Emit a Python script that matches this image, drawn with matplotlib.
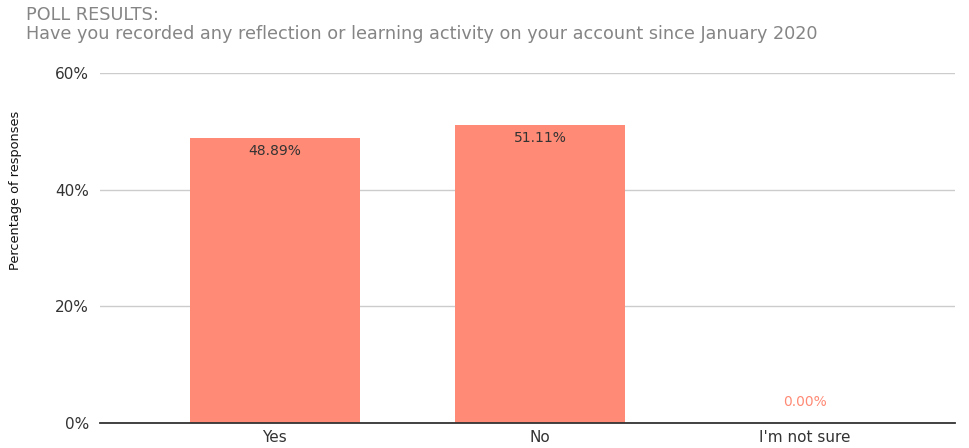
import matplotlib
matplotlib.use("Agg")
import matplotlib.pyplot as plt
from matplotlib.ticker import FuncFormatter

# poll answers and share of responses (percent)
answers = ["Yes", "No", "I'm not sure"]
shares = [48.89, 51.11, 0.00]
value_labels = ["48.89%", "51.11%", "0.00%"]
yticks = [0, 20, 40, 60]

bar_color = "#FF8A75"
text_color = "#333333"

fig = plt.figure(figsize=(9.69, 4.48), dpi=100)
ax = fig.add_axes([0.1032, 0.0558, 0.8824, 0.7812])

xpos = list(range(len(answers)))
ax.bar(xpos, shares, width=0.64, color=bar_color, zorder=3)

# value labels sit just inside the top of each bar, zero bars get a label above the axis
for x, v, lab in zip(xpos, shares, value_labels):
    if v > 0:
        ax.text(x, v - 1.0, lab, ha="center", va="top", fontsize=10,
                color=text_color, family="DejaVu Sans", zorder=4)
    else:
        ax.text(x, v + 2.4, lab, ha="center", va="bottom", fontsize=10,
                color=bar_color, family="DejaVu Sans", zorder=4)

ax.set_xlim(-0.66, 2.566)
ax.set_ylim(0, 60)
ax.set_xticks(xpos)
ax.set_xticklabels(answers, family="DejaVu Sans", fontsize=11, color=text_color)
ax.set_yticks(yticks)
ax.yaxis.set_major_formatter(FuncFormatter(lambda v, _: f"{v:.0f}%"))
for t in ax.get_yticklabels():
    t.set_family("DejaVu Sans")
    t.set_fontsize(11)
    t.set_color(text_color)

ax.tick_params(axis="both", length=0)
ax.tick_params(axis="y", pad=8)
ax.tick_params(axis="x", pad=5)
ax.grid(axis="y", color="#cccccc", linewidth=1, zorder=0)
for side in ["top", "right", "left"]:
    ax.spines[side].set_visible(False)
ax.spines["bottom"].set_color("#333333")
ax.spines["bottom"].set_linewidth(1.3)
ax.spines["bottom"].set_zorder(5)

fig.text(0.0155, 0.576, "Percentage of responses", rotation=90, ha="center", va="center",
         fontsize=9.3, color="#111111", family=["Liberation Sans Narrow", "DejaVu Sans"])

fig.text(0.027, 0.966, "POLL RESULTS:", ha="left", va="center", fontsize=12.7,
         color="#858585", family="DejaVu Sans")
fig.text(0.027, 0.925, "Have you recorded any reflection or learning activity on your account since January 2020",
         ha="left", va="center", fontsize=12.7, color="#858585", family="DejaVu Sans")

fig.savefig("out.png", dpi=100)
